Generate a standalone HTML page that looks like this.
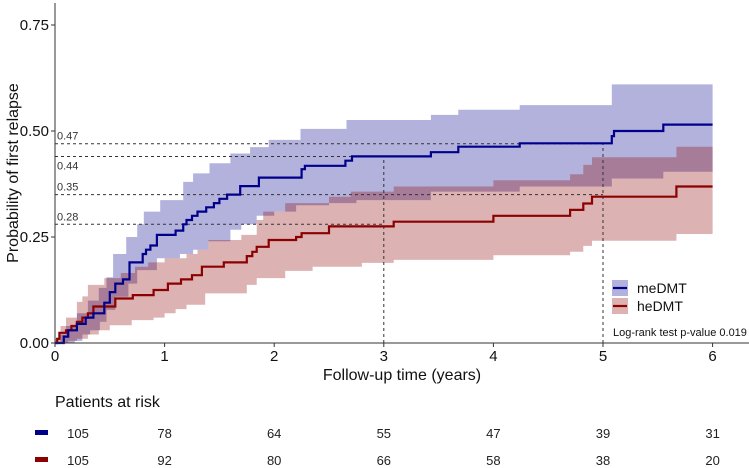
<!DOCTYPE html>
<html><head><meta charset="utf-8">
<style>
body{margin:0;background:#fff;}
svg{display:block;font-family:"Liberation Sans",Arial,sans-serif;}
</style></head>
<body>
<svg id="chart" width="749" height="468" viewBox="0 0 749 468" xmlns="http://www.w3.org/2000/svg"></svg>
<script>
const blueT=[0,0.08,0.12,0.2,0.28,0.35,0.45,0.5,0.55,0.62,0.68,0.8,0.83,0.87,0.93,1.1,1.17,1.2,1.25,1.3,1.38,1.45,1.5,1.57,1.69,1.86,2.25,2.28,2.65,2.71,3.43,3.68,4.24,5.08,5.1,5.55];
const blueP=[0,0.015,0.03,0.045,0.06,0.07,0.095,0.12,0.14,0.15,0.19,0.21,0.22,0.23,0.255,0.265,0.28,0.29,0.30,0.31,0.32,0.33,0.34,0.35,0.37,0.39,0.41,0.418,0.43,0.44,0.45,0.463,0.471,0.488,0.50,0.515];
const redT=[0,0.02,0.04,0.1,0.15,0.2,0.25,0.3,0.35,0.55,0.71,0.9,1.03,1.15,1.25,1.34,1.54,1.75,1.8,1.84,1.95,2.2,2.25,2.5,3.09,4.0,4.7,4.82,4.9,5.67];
const redP=[0,0.01,0.024,0.03,0.04,0.05,0.06,0.07,0.086,0.105,0.113,0.125,0.14,0.15,0.16,0.18,0.19,0.205,0.215,0.227,0.243,0.25,0.259,0.275,0.286,0.30,0.314,0.329,0.345,0.369];
const blueHiT=[0,0.05,0.1,0.2,0.3,0.4,0.47,0.53,0.65,0.75,0.81,0.96,1.17,1.26,1.41,1.6,1.78,1.95,2.24,2.66,3.43,3.68,4.24,5.08];
const blueHiP=[0,0.02,0.04,0.07,0.10,0.13,0.155,0.21,0.25,0.28,0.31,0.337,0.38,0.40,0.424,0.447,0.462,0.479,0.505,0.526,0.538,0.55,0.561,0.61];
const blueLoT=[0,0.18,0.25,0.32,0.41,0.47,0.55,0.67,0.75,0.93,1.14,1.26,1.4,1.6,1.7,1.84,2.0,2.2,2.5,2.75,3.09,3.43,4.0,4.24,5.08,5.55];
const blueLoP=[0,0.005,0.02,0.03,0.05,0.078,0.109,0.14,0.172,0.2,0.21,0.22,0.24,0.267,0.28,0.30,0.31,0.325,0.33,0.337,0.337,0.357,0.357,0.369,0.388,0.404];
const redHiT=[0,0.05,0.1,0.2,0.25,0.3,0.45,0.6,0.73,0.85,1.0,1.2,1.3,1.4,1.7,1.84,1.9,2.1,2.5,2.7,3.09,4.0,4.7,4.82,4.9,5.67];
const redHiP=[0.01,0.04,0.06,0.097,0.11,0.137,0.153,0.165,0.18,0.19,0.20,0.21,0.22,0.243,0.255,0.29,0.31,0.33,0.345,0.357,0.369,0.384,0.398,0.42,0.438,0.463];
const redLoT=[0,0.12,0.2,0.3,0.4,0.5,0.7,0.9,1.0,1.1,1.2,1.37,1.75,1.84,2.1,2.35,2.8,3.09,4.0,4.7,4.82,4.9,5.67];
const redLoP=[0,0.005,0.01,0.02,0.03,0.042,0.054,0.06,0.07,0.08,0.09,0.117,0.137,0.153,0.17,0.18,0.189,0.196,0.207,0.215,0.229,0.241,0.257];
const xTicks=[0,1,2,3,4,5,6];
const yTicks=[0,0.25,0.5,0.75];
const yTickLabels=["0.00","0.25","0.50","0.75"];
const riskBlue=[105,78,64,55,47,39,31];
const riskRed=[105,92,80,66,58,38,20];
const refP=[0.47,0.44,0.35,0.28];
const refT=[5,3,5,3];
const refLabels=["0.47","0.44","0.35","0.28"];

const NS="http://www.w3.org/2000/svg";
const svg=document.getElementById('chart');
const X=t=>55+109.6*t;
const Y=p=>343-424*p;
function el(tag,attrs,parent){const e=document.createElementNS(NS,tag);for(const k in attrs)e.setAttribute(k,attrs[k]);(parent||svg).appendChild(e);return e;}
function stepPts(T,P,end){let pts=[];for(let i=0;i<T.length;i++){const x=X(T[i]);if(i>0)pts.push([x,Y(P[i-1])]);pts.push([x,Y(P[i])]);}pts.push([X(end),Y(P[P.length-1])]);return pts;}
function bandPath(hT,hP,lT,lP){const up=stepPts(hT,hP,6);const lo=stepPts(lT,lP,6).reverse();return 'M'+up.concat(lo).map(p=>p[0].toFixed(1)+','+p[1].toFixed(1)).join('L')+'Z';}

let b=el('path',{d:bandPath(blueHiT,blueHiP,blueLoT,blueLoP),fill:'#00008B','fill-opacity':0.3});


let r=el('path',{d:bandPath(redHiT,redHiP,redLoT,redLoP),fill:'#8B0000','fill-opacity':0.3});



// reference dashed lines
refP.forEach((p,i)=>{
  const h=el('line',{x1:55,x2:X(refT[i]),y1:Y(p),y2:Y(p),stroke:'#333','stroke-width':1,'stroke-dasharray':'3,3'});
  
  
  const above=refLabels[i]!=="0.44";
  const t=el('text',{x:57,y:above?Y(p)-4:Y(p)+13,'font-size':11,fill:'#333'});
  t.textContent=refLabels[i];
  
  
});
[[3,0.44],[5,0.47]].forEach(v=>{
  const l=el('line',{x1:X(v[0]),x2:X(v[0]),y1:Y(0),y2:Y(v[1]),stroke:'#333','stroke-width':1,'stroke-dasharray':'3,3'});
  
  
});

function line(T,P,color,name){const pts=stepPts(T,P,6);const e=el('polyline',{points:pts.map(p=>p[0].toFixed(1)+','+p[1].toFixed(1)).join(' '),fill:'none',stroke:color,'stroke-width':2.2});

}
line(redT,redP,'#8B0000','heDMT-curve');
line(blueT,blueP,'#00008B','meDMT-curve');

// axes
const ya=el('line',{x1:55,x2:55,y1:3,y2:343,stroke:'#333','stroke-width':1});


const xa=el('line',{x1:55,x2:749,y1:343,y2:343,stroke:'#333','stroke-width':1});


yTicks.forEach((v,i)=>{
  el('line',{x1:51,x2:55,y1:Y(v),y2:Y(v),stroke:'#333'});
  const t=el('text',{x:49,y:Y(v)+5,'font-size':15,'text-anchor':'end',fill:'#111'});
  t.textContent=yTickLabels[i];
  
  
});
xTicks.forEach(v=>{
  el('line',{x1:X(v),x2:X(v),y1:343,y2:347,stroke:'#333'});
  const t=el('text',{x:X(v),y:361,'font-size':15,'text-anchor':'middle',fill:'#111'});
  t.textContent=v;
  
  
});
const yt=el('text',{x:0,y:0,'font-size':16,'text-anchor':'middle',fill:'#111',transform:'translate(18,173) rotate(-90)'});
yt.textContent='Probability of first relapse';


const xt=el('text',{x:402,y:380,'font-size':16,'text-anchor':'middle',fill:'#111'});
xt.textContent='Follow-up time (years)';



// legend
[['meDMT','#00008B',280],['heDMT','#8B0000',298]].forEach(l=>{
  const g=el('g',{});
  
  
  el('rect',{x:612,y:l[2],width:16,height:16,fill:l[1],'fill-opacity':0.3},g);
  el('line',{x1:613,x2:627,y1:l[2]+8,y2:l[2]+8,stroke:l[1],'stroke-width':2.2},g);
  const t=el('text',{x:637,y:l[2]+13,'font-size':14,fill:'#111'},g);
  t.textContent=l[0];
});
const lr=el('text',{x:613,y:336,'font-size':11,fill:'#111'});
lr.textContent='Log-rank test p-value 0.019';



// risk table
const pr=el('text',{x:55,y:407,'font-size':16,fill:'#111'});
pr.textContent='Patients at risk';


[[riskBlue,'#00008B',433,'meDMT'],[riskRed,'#8B0000',460,'heDMT']].forEach(row=>{
  const m=el('rect',{x:35,y:row[2]-3,width:13,height:5,fill:row[1]});
  
  
  row[0].forEach((v,i)=>{
    const t=el('text',{x:i===0?78:X(xTicks[i]),y:row[2]+5,'font-size':13,'text-anchor':'middle',fill:'#222'});
    t.textContent=v;
    
    
  });
});
</script>
</body></html>
